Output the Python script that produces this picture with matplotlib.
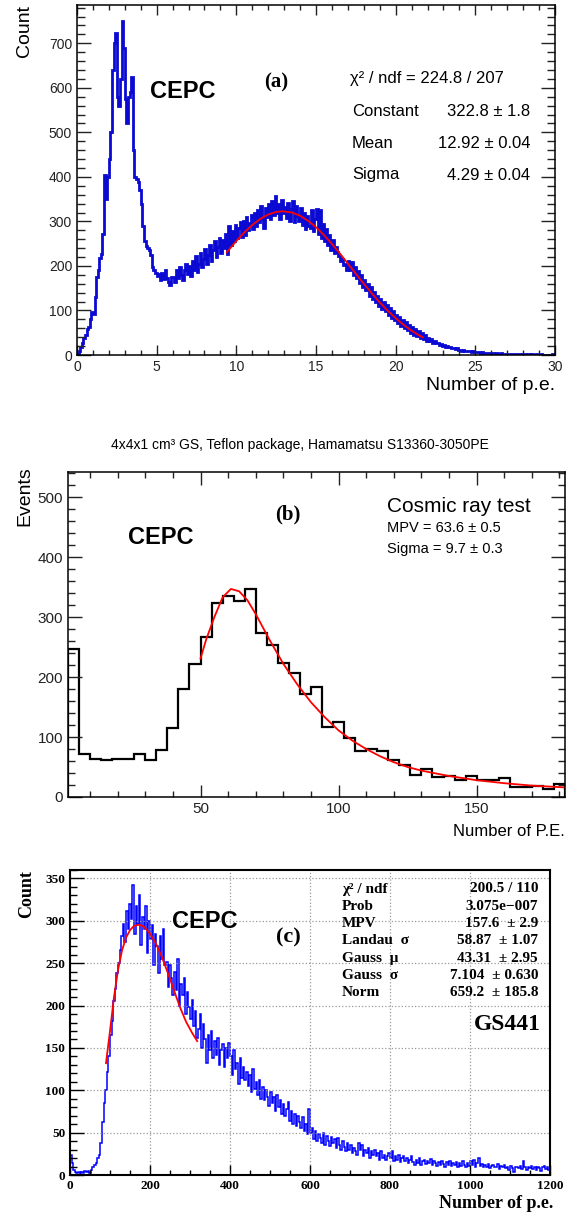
import matplotlib
matplotlib.use("Agg")
import matplotlib.pyplot as plt
import numpy as np
from matplotlib.ticker import MultipleLocator

plt.rcParams['font.family'] = ['Liberation Sans', 'DejaVu Sans']
SERIF = ['Liberation Serif', 'DejaVu Serif']

W, H = 571, 1216

# ---------------- panel (a): bins of 0.1 p.e. from 0 to 30
a_edges = np.arange(0, 301) * 0.1
a_counts = [
    5, 10, 18, 26, 38, 44, 58, 62, 80, 96,
    92, 130, 176, 192, 218, 226, 272, 404, 350, 400,
    440, 500, 640, 700, 722, 580, 560, 620, 750, 690,
    575, 520, 580, 590, 625, 460, 400, 395, 388, 370,
    340, 290, 256, 245, 240, 236, 225, 198, 190, 185,
    178, 182, 168, 185, 170, 190, 172, 165, 158, 176,
    176, 165, 190, 172, 198, 180, 168, 192, 205, 182,
    200, 178, 210, 192, 222, 186, 205, 230, 198, 215,
    238, 205, 225, 248, 212, 235, 255, 220, 242, 262,
    228, 258, 240, 272, 226, 290, 248, 278, 255, 292,
    262, 285, 298, 265, 302, 270, 310, 280, 296, 315,
    282, 318, 290, 325, 298, 335, 305, 285, 330, 310,
    338, 305, 345, 315, 356, 318, 340, 305, 348, 320,
    332, 308, 342, 300, 328, 345, 298, 335, 312, 300,
    330, 292, 318, 282, 312, 290, 285, 325, 278, 305,
    328, 272, 325, 262, 295, 255, 282, 248, 270, 235,
    258, 228, 242, 232, 222, 212, 215, 202, 205, 190,
    212, 192, 208, 180, 198, 172, 188, 162, 180, 152,
    168, 145, 160, 132, 152, 125, 142, 118, 132, 110,
    126, 104, 118, 98, 112, 90, 105, 84, 98, 78,
    90, 72, 86, 66, 78, 60, 74, 56, 68, 50,
    62, 46, 58, 42, 54, 38, 50, 36, 45, 32,
    38, 32, 35, 28, 31, 26, 28, 23, 25, 21,
    22, 19, 21, 17, 18, 15, 16, 13, 15, 12,
    12, 10, 11, 9, 10, 8, 9, 7, 8, 7,
    7, 6, 7, 5, 6, 5, 5, 4, 5, 4,
    4, 4, 3, 4, 3, 3, 4, 2, 3, 3,
    3, 2, 3, 2, 2, 3, 2, 2, 1, 2,
    2, 2, 1, 2, 1, 2, 1, 1, 2, 1,
    1, 2, 1, 1, 1, 0, 1, 1, 2, 1,
]
a_fit_x = [9.4, 10.0, 10.5, 11.0, 11.5, 12.0, 12.5, 12.92, 13.5, 14.0, 14.5, 15.0,
           15.5, 16.0, 16.5, 17.0, 17.5, 18.0, 18.5, 19.0, 19.5, 20.0, 20.5, 21.0,
           21.5, 21.7]
a_fit_y = [230.5, 256.0, 275.3, 292.0, 305.6, 315.5, 321.3, 322.8, 319.9, 312.7, 301.6,
           287.0, 269.4, 249.4, 227.9, 205.3, 182.5, 160.1, 138.5, 118.2, 99.5, 82.7,
           67.7, 54.7, 43.6, 39.7]

# ---------------- panel (b): cosmic ray test, bins of 4 P.E.
b_edges = np.arange(2, 183, 4)
b_counts = [246, 71, 63, 62, 64, 63, 72, 61, 79, 115,
            180, 222, 266, 323, 336, 327, 347, 273, 253, 223,
            207, 172, 184, 116, 125, 98, 77, 80, 76, 62,
            54, 36, 47, 33, 35, 29, 35, 29, 29, 32,
            16, 16, 19, 14, 21]
b_fit_x = [50, 52, 55, 58, 61, 64, 67, 70, 75, 80, 85, 90, 95, 100, 105, 110, 115,
           120, 125, 130, 140, 150, 160, 170, 182]
b_fit_y = [231, 262, 300, 333, 347, 343, 328, 305, 262, 222, 188, 158, 133, 111, 94,
           80, 68, 58, 50, 44, 35, 28, 23, 19, 16]

# ---------------- panel (c): GS441, bins of 4 p.e. from 0 to 1200
c_edges = np.arange(0, 1201, 4)
c_counts = [
    24, 14, 6, 3, 2, 4, 1, 3, 2, 5,
    3, 5, 2, 6, 9, 12, 14, 20, 24, 38,
    62, 85, 100, 122, 140, 165, 182, 205, 220, 238,
    250, 265, 282, 296, 275, 312, 290, 320, 302, 342,
    285, 318, 296, 330, 272, 305, 290, 318, 262, 300,
    278, 295, 248, 285, 270, 238, 282, 255, 290, 248,
    252, 222, 248, 232, 212, 240, 218, 255, 200, 225,
    212, 232, 190, 216, 198, 184, 206, 176, 194, 162,
    172, 190, 150, 178, 160, 132, 165, 148, 170, 138,
    158, 142, 162, 130, 148, 155, 128, 150, 138, 156,
    140, 118, 148, 125, 132, 108, 138, 115, 128, 112,
    122, 105, 118, 98, 125, 102, 110, 95, 112, 90,
    104, 88, 100, 92, 82, 98, 85, 92, 76, 95,
    80, 88, 72, 84, 70, 78, 86, 64, 75, 60,
    72, 58, 70, 62, 55, 68, 52, 60, 48, 78,
    50, 56, 42, 52, 40, 48, 44, 38, 50, 36,
    46, 40, 34, 45, 38, 42, 32, 44, 36, 30,
    40, 33, 28, 38, 30, 35, 26, 32, 28, 24,
    38, 30, 36, 22, 30, 26, 32, 20, 28, 24,
    30, 22, 26, 18, 28, 20, 24, 18, 22, 26,
    20, 28, 16, 22, 18, 24, 15, 20, 22, 16,
    20, 14, 18, 22, 15, 12, 18, 14, 20, 12,
    16, 18, 13, 17, 14, 19, 12, 16, 14, 11,
    15, 12, 17, 13, 10, 15, 12, 16, 11, 14,
    12, 15, 10, 14, 11, 16, 12, 9, 14, 11,
    16, 12, 18, 10, 14, 20, 11, 13, 9, 12,
    10, 13, 8, 11, 12, 9, 10, 13, 7, 11,
    9, 12, 8, 10, 6, 11, 8, 4, 10, 9,
    8, 11, 7, 16, 9, 6, 10, 8, 11, 7,
    9, 6, 10, 8, 5, 9, 11, 7, 9, 6,
]
c_fit_x = [90, 100, 110, 120, 130, 140, 150, 160, 173, 185, 200, 215, 230, 245, 260,
           275, 290, 305, 318]
c_fit_y = [132, 170, 210, 242, 265, 280, 289, 294, 295.5, 293, 285, 273, 257, 238,
           218, 198, 181, 168, 158]

a_stats = [("Constant", "322.8 \u00b1 1.8"), ("Mean", "12.92 \u00b1 0.04"),
           ("Sigma", "4.29 \u00b1 0.04")]
c_stats = [("\u03c7\u00b2 / ndf", "200.5 / 110"), ("Prob", "3.075e\u2212007"),
           ("MPV", "157.6  \u00b1 2.9"), ("Landau  \u03c3", "58.87  \u00b1 1.07"),
           ("Gauss  \u03bc", "43.31  \u00b1 2.95"), ("Gauss  \u03c3", "7.104  \u00b1 0.630"),
           ("Norm", "659.2  \u00b1 185.8")]


def box(left, right, top, bottom):
    return [left / W, 1 - bottom / H, (right - left) / W, (bottom - top) / H]


def px(x, y):
    return x / W, 1 - y / H


fig = plt.figure(figsize=(W / 100, H / 100), dpi=100)

# ======================= (a)
ax = fig.add_axes(box(77, 555, 5, 355))
ax.stairs(a_counts, a_edges, color='#0a0ad2', linewidth=2.0)
ax.plot(a_fit_x, a_fit_y, color='red', linewidth=1.3)
ax.set_xlim(0, 30)
ax.set_ylim(0, 786)
ax.xaxis.set_major_locator(MultipleLocator(5))
ax.xaxis.set_minor_locator(MultipleLocator(1))
ax.yaxis.set_major_locator(MultipleLocator(100))
ax.yaxis.set_minor_locator(MultipleLocator(20))
ax.tick_params(which='both', direction='in', top=True, right=True, labelsize=10,
               width=1.0, colors='#222222')
ax.tick_params(axis='y', which='major', length=10)
ax.tick_params(axis='y', which='minor', length=5.5)
ax.tick_params(axis='x', which='major', length=7)
ax.tick_params(axis='x', which='minor', length=3.5)
for s in ax.spines.values():
    s.set_linewidth(1.1)
fig.text(*px(25, 5), "Count", rotation=90, ha='center', va='top', fontsize=14)
fig.text(*px(555, 385), "Number of p.e.", ha='right', va='center', fontsize=14)
fig.text(*px(150, 92), "CEPC", ha='left', va='center', fontsize=17, fontweight='bold')
fig.text(*px(276, 82), "(a)", ha='center', va='center', fontsize=15, fontweight='bold',
         family=SERIF)
fig.text(*px(350, 78), "\u03c7\u00b2 / ndf = 224.8 / 207", ha='left', va='center', fontsize=12)
for i, (name, val) in enumerate(a_stats):
    yy = 111 + i * 32
    fig.text(*px(352, yy), name, ha='left', va='center', fontsize=12)
    fig.text(*px(530, yy), val, ha='right', va='center', fontsize=12)

# ======================= (b)
ax = fig.add_axes(box(68, 565, 472, 797))
ax.stairs(b_counts, b_edges, color='black', linewidth=1.6)
ax.plot(b_fit_x, b_fit_y, color='red', linewidth=1.3)
ax.set_xlim(2, 182)
ax.set_ylim(0, 542)
ax.xaxis.set_major_locator(MultipleLocator(50))
ax.xaxis.set_minor_locator(MultipleLocator(10))
ax.yaxis.set_major_locator(MultipleLocator(100))
ax.yaxis.set_minor_locator(MultipleLocator(20))
ax.tick_params(which='both', direction='in', top=True, right=True, labelsize=11,
               width=1.0, colors='#222222')
ax.tick_params(axis='y', which='major', length=10)
ax.tick_params(axis='y', which='minor', length=5)
ax.tick_params(axis='x', which='major', length=9)
ax.tick_params(axis='x', which='minor', length=4.5)
for s in ax.spines.values():
    s.set_linewidth(1.1)
fig.text(*px(300, 445), "4x4x1 cm\u00b3 GS, Teflon package, Hamamatsu S13360-3050PE",
         ha='center', va='center', fontsize=10)
fig.text(*px(25, 466), "Events", rotation=90, ha='center', va='top', fontsize=14)
fig.text(*px(565, 832), "Number of P.E.", ha='right', va='center', fontsize=12)
fig.text(*px(128, 537), "CEPC", ha='left', va='center', fontsize=17, fontweight='bold')
fig.text(*px(288, 514), "(b)", ha='center', va='center', fontsize=15, fontweight='bold',
         family=SERIF)
fig.text(*px(387, 506), "Cosmic ray test", ha='left', va='center', fontsize=15)
fig.text(*px(387, 528), "MPV = 63.6 \u00b1 0.5", ha='left', va='center', fontsize=10.5)
fig.text(*px(387, 549), "Sigma = 9.7 \u00b1 0.3", ha='left', va='center', fontsize=10.5)

# ======================= (c)
ax = fig.add_axes(box(70, 550, 870, 1175))
ax.stairs(c_counts, c_edges, color='#0000ff', linewidth=1.1)
ax.plot(c_fit_x, c_fit_y, color='red', linewidth=1.3)
ax.set_xlim(0, 1200)
ax.set_ylim(0, 360)
ax.xaxis.set_major_locator(MultipleLocator(200))
ax.xaxis.set_minor_locator(MultipleLocator(50))
ax.yaxis.set_major_locator(MultipleLocator(50))
ax.yaxis.set_minor_locator(MultipleLocator(10))
ax.grid(True, which='major', linestyle=':', color='#9a9a9a', linewidth=0.9)
ax.tick_params(which='both', direction='in', labelsize=9.5, width=1.0)
ax.tick_params(axis='y', which='major', length=10)
ax.tick_params(axis='y', which='minor', length=5)
ax.tick_params(axis='x', which='major', length=7)
ax.tick_params(axis='x', which='minor', length=3.5)
for lab in ax.get_xticklabels() + ax.get_yticklabels():
    lab.set_family(SERIF)
    lab.set_fontweight('bold')
for s in ax.spines.values():
    s.set_linewidth(1.5)
fig.text(*px(27, 870), "Count", rotation=90, ha='center', va='top', fontsize=13,
         fontweight='bold', family=SERIF)
fig.text(*px(553, 1203), "Number of p.e.", ha='right', va='center', fontsize=13,
         fontweight='bold', family=SERIF)
fig.text(*px(172, 921), "CEPC", ha='left', va='center', fontsize=17, fontweight='bold')
fig.text(*px(288, 937), "(c)", ha='center', va='center', fontsize=16, fontweight='bold',
         family=SERIF)
for i, (name, val) in enumerate(c_stats):
    yy = 889 + i * 17.3
    fig.text(*px(342, yy), name, ha='left', va='center', fontsize=11, fontweight='bold',
             family=SERIF)
    fig.text(*px(538, yy), val, ha='right', va='center', fontsize=11, fontweight='bold',
             family=SERIF)
fig.text(*px(541, 1024), "GS441", ha='right', va='center', fontsize=17, fontweight='bold',
         family=SERIF)

fig.savefig("out.png", dpi=100)
